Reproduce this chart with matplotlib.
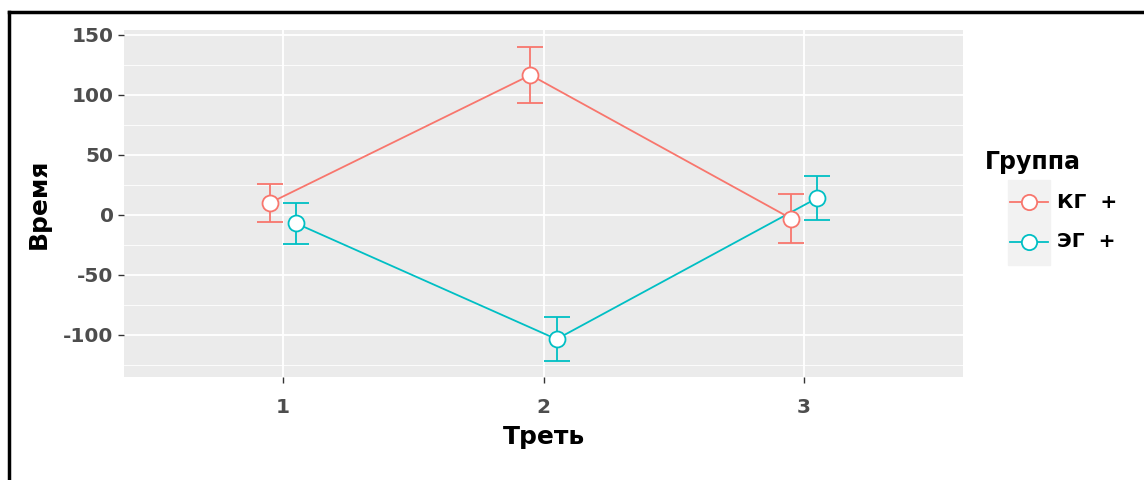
import matplotlib.pyplot as plt
from matplotlib.lines import Line2D
from matplotlib.patches import Rectangle

plt.rcParams['font.family'] = ['DejaVu Sans']
plt.rcParams['axes.unicode_minus'] = False

thirds = [1, 2, 3]
groups = ["КГ  +", "ЭГ  +"]
kg_mean = [10, 116.5, -3]
kg_err = [16, 23.5, 20]
eg_mean = [-7, -103.5, 14]
eg_err = [17, 18.5, 18]
colors = ["#F8766D", "#00BFC4"]
dodge = 0.05

fig = plt.figure(figsize=(11.44, 4.8), dpi=100)
ax = fig.add_axes([0.1084, 0.2146, 0.7334, 0.7229])

ax.set_facecolor("#EBEBEB")
for s in ax.spines.values():
    s.set_visible(False)

# grid lines like ggplot grey theme
for v in [-125, -75, -25, 25, 75, 125]:
    ax.axhline(v, color="white", lw=0.6, zorder=0)
for v in [-100, -50, 0, 50, 100, 150]:
    ax.axhline(v, color="white", lw=1.3, zorder=0)
for v in thirds:
    ax.axvline(v, color="white", lw=1.3, zorder=0)

series = [(kg_mean, kg_err, -dodge), (eg_mean, eg_err, dodge)]
for (m, e, d), c in zip(series, colors):
    xs = [x + d for x in thirds]
    ax.plot(xs, m, color=c, lw=1.3, zorder=2)
    ax.errorbar(xs, m, yerr=e, fmt='none', ecolor=c, elinewidth=1.3,
                capsize=9.5, capthick=1.3, zorder=3)
    ax.plot(xs, m, 'o', mfc='white', mec=c, mew=1.3, ms=11.5, zorder=4)

ax.set_xlim(0.39, 3.61)
ax.set_ylim(-135, 154)
ax.set_xticks(thirds)
ax.set_yticks([-100, -50, 0, 50, 100, 150])
ax.tick_params(colors="#333333", length=4, width=1, labelsize=14.5,
               labelcolor="#4D4D4D")
ax.tick_params(axis='x', pad=11)
for lab in ax.get_xticklabels() + ax.get_yticklabels():
    lab.set_fontweight('bold')

ax.set_xlabel("Треть", fontsize=18, fontweight='bold', labelpad=6)
ax.set_ylabel("Время", fontsize=18, fontweight='bold', labelpad=9)

# legend drawn by hand, ggplot style
fig.text(0.861, 0.663, "Группа", fontsize=17, fontweight='bold',
         ha='left', va='center')
fig.add_artist(Rectangle((0.881, 0.448), 0.037, 0.177, color="#F2F2F2",
                         transform=fig.transFigure, zorder=0))
for yk, c, g in zip([0.579, 0.496], colors, groups):
    fig.add_artist(Line2D([0.883, 0.916], [yk, yk], color=c, lw=1.3,
                          transform=fig.transFigure))
    fig.add_artist(Line2D([0.8995], [yk], marker='o', mfc='white', mec=c,
                          mew=1.3, ms=11, transform=fig.transFigure))
    fig.text(0.924, yk, g, fontsize=14.5, fontweight='bold',
             ha='left', va='center')

# frame lines at top and left of the picture
fig.add_artist(Line2D([0.008, 1.0], [0.974, 0.974], color="black", lw=2.5,
                      transform=fig.transFigure))
fig.add_artist(Line2D([0.008, 0.008], [0.0, 0.974], color="black", lw=2.5,
                      transform=fig.transFigure))

plt.savefig("out.png", dpi=100)
